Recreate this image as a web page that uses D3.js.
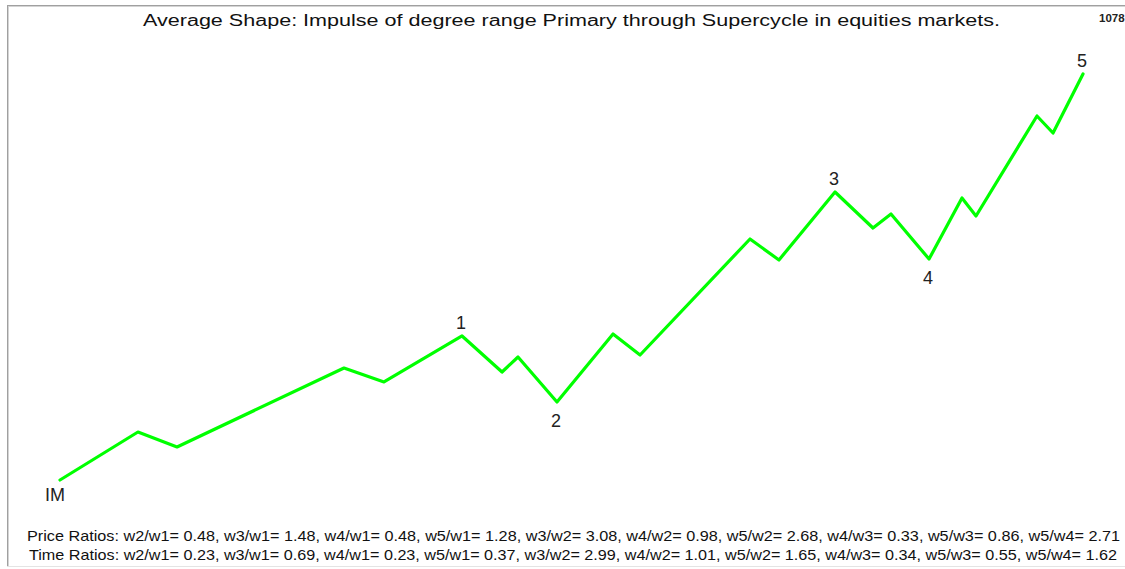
<!DOCTYPE html>
<html>
<head>
<meta charset="utf-8">
<script src="https://cdn.jsdelivr.net/npm/d3@7/dist/d3.min.js"></script>
<style>
  html, body { margin: 0; padding: 0; background: #ffffff; overflow: hidden; }
  svg { display: block; }
</style>
</head>
<body>
<svg id="chart" width="1125" height="569"></svg>
<script>
// Average impulse shape: time (0–100 % of total duration) and price (0–100 % of total move)
const waveTime  = [0, 7.62, 11.44, 27.76, 31.67, 39.30, 43.21, 44.77, 48.58, 54.06, 56.70,
                   67.45, 70.28, 75.76, 79.47, 81.23, 84.95, 88.17, 89.54, 95.50, 97.07, 100];
const wavePrice = [0, 11.82, 8.13, 27.59, 24.14, 35.47, 26.60, 30.30, 19.21, 35.96, 30.79,
                   59.36, 54.19, 70.94, 62.07, 65.52, 54.43, 69.46, 65.02, 89.66, 85.47, 100];

// Wave labels: index into the series above, and whether the label sits above or below
const labelText  = ["IM", "1", "2", "3", "4", "5"];
const labelIndex = [0, 5, 8, 13, 16, 21];
const labelSide  = ["below", "above", "below", "above", "below", "above"];

const titleText = "Average Shape: Impulse of degree range Primary through Supercycle in equities markets.";
const cornerText = "1078";
const priceRatios = "Price Ratios: w2/w1= 0.48, w3/w1= 1.48, w4/w1= 0.48, w5/w1= 1.28, w3/w2= 3.08, w4/w2= 0.98, w5/w2= 2.68, w4/w3= 0.33, w5/w3= 0.86, w5/w4= 2.71";
const timeRatios  = "Time Ratios: w2/w1= 0.23, w3/w1= 0.69, w4/w1= 0.23, w5/w1= 0.37, w3/w2= 2.99, w4/w2= 1.01, w5/w2= 1.65, w4/w3= 0.34, w5/w3= 0.55, w5/w4= 1.62";

const svg = d3.select("#chart");
const font = "Arial, 'Liberation Sans', sans-serif";

// Sunken panel frame
svg.append("rect").attr("x", 7).attr("y", 5).attr("width", 1130).attr("height", 562)
  .attr("fill", "#ffffff");
svg.append("line").attr("x1", 7).attr("y1", 5.5).attr("x2", 1125).attr("y2", 5.5)
  .attr("stroke", "#a0a0a0").attr("stroke-width", 1);
svg.append("line").attr("x1", 8).attr("y1", 6.5).attr("x2", 1125).attr("y2", 6.5)
  .attr("stroke", "#d4d4d4").attr("stroke-width", 1);
svg.append("line").attr("x1", 7.5).attr("y1", 5).attr("x2", 7.5).attr("y2", 567)
  .attr("stroke", "#a0a0a0").attr("stroke-width", 1);
svg.append("line").attr("x1", 8.5).attr("y1", 6).attr("x2", 8.5).attr("y2", 566)
  .attr("stroke", "#d4d4d4").attr("stroke-width", 1);
svg.append("line").attr("x1", 7).attr("y1", 566.5).attr("x2", 1125).attr("y2", 566.5)
  .attr("stroke", "#e4e4e4").attr("stroke-width", 1);

// Scales
const x = d3.scaleLinear().domain([0, 100]).range([60, 1083]);
const y = d3.scaleLinear().domain([0, 100]).range([480, 74]);

const pts = waveTime.map((t, i) => [t, wavePrice[i]]);

svg.append("path")
  .datum(pts)
  .attr("fill", "none")
  .attr("stroke", "#00ff00")
  .attr("stroke-width", 3.2)
  .attr("stroke-linejoin", "round")
  .attr("stroke-linecap", "round")
  .attr("d", d3.line().x(d => x(d[0])).y(d => y(d[1])));

// Wave labels
svg.append("g").selectAll("text")
  .data(labelText.map((t, i) => ({ t, p: pts[labelIndex[i]], side: labelSide[i] })))
  .join("text")
  .attr("x", d => x(d.p[0]) - (d.t === "IM" ? 5 : 1))
  .attr("y", d => y(d.p[1]) + (d.side === "above" ? -7 : (d.t === "IM" ? 21 : 25)))
  .attr("text-anchor", "middle")
  .attr("font-family", font)
  .attr("font-size", 18)
  .attr("fill", "#222222")
  .text(d => d.t);

// Title
svg.append("text")
  .attr("x", 143).attr("y", 26)
  .attr("font-family", font).attr("font-size", 16).attr("fill", "#111111")
  .attr("textLength", 857).attr("lengthAdjust", "spacingAndGlyphs")
  .text(titleText);

// Corner count (runs off the right edge)
svg.append("text")
  .attr("x", 1099).attr("y", 22)
  .attr("font-family", font).attr("font-size", 11.5).attr("font-weight", "bold")
  .attr("fill", "#222222")
  .text(cornerText);

// Ratio lines
svg.append("text")
  .attr("x", 27).attr("y", 541)
  .attr("font-family", font).attr("font-size", 15).attr("fill", "#111111")
  .attr("textLength", 1093).attr("lengthAdjust", "spacingAndGlyphs")
  .text(priceRatios);

svg.append("text")
  .attr("x", 29).attr("y", 560)
  .attr("font-family", font).attr("font-size", 15).attr("fill", "#111111")
  .attr("textLength", 1088).attr("lengthAdjust", "spacingAndGlyphs")
  .text(timeRatios);
</script>
</body>
</html>
